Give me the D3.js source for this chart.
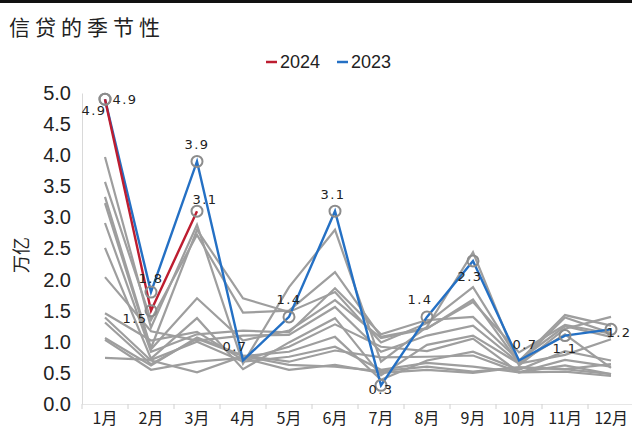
<!DOCTYPE html>
<html>
<head>
<meta charset="utf-8">
<script src="https://cdn.jsdelivr.net/npm/d3@7/dist/d3.min.js"></script>
<style>
  html, body { margin: 0; padding: 0; background: #fff; }
  svg { display: block; }
</style>
</head>
<body>
<svg id="chart" width="632" height="430"></svg>
<script>
// Months on the category axis
const months = ["1月","2月","3月","4月","5月","6月","7月","8月","9月","10月","11月","12月"];

// Monthly new loans, trillion yuan
const values2024 = [4.9, 1.5, 3.1];
const values2023 = [4.9, 1.8, 3.9, 0.7, 1.4, 3.1, 0.3, 1.4, 2.3, 0.7, 1.1, 1.2];

// Earlier years, drawn as grey background lines
const history2022 = [3.97, 1.23, 2.88, 0.65, 1.88, 2.80, 0.68, 1.24, 2.44, 0.62, 1.21, 1.40];
const history2021 = [3.57, 1.35, 2.72, 1.47, 1.50, 2.12, 1.08, 1.22, 1.64, 0.83, 1.27, 1.13];
const history2020 = [3.33, 0.90, 2.80, 1.70, 1.48, 1.80, 0.99, 1.30, 1.88, 0.69, 1.43, 1.26];
const history2019 = [3.23, 0.88, 1.70, 1.02, 1.18, 1.67, 1.06, 1.21, 1.68, 0.66, 1.39, 1.14];
const history2018 = [2.91, 0.84, 1.12, 1.18, 1.15, 1.86, 1.12, 1.35, 1.40, 0.70, 1.25, 1.08];
const history2017 = [2.04, 1.17, 1.02, 1.10, 1.11, 1.56, 0.84, 1.10, 1.26, 0.66, 1.12, 0.58];
const history2016 = [2.51, 0.73, 1.38, 0.56, 0.99, 1.38, 0.46, 0.95, 1.10, 0.65, 0.79, 1.04];
const history2015 = [1.46, 1.02, 1.16, 0.71, 0.92, 1.28, 0.92, 0.85, 1.05, 0.51, 0.71, 0.60];
const history2014 = [1.31, 0.64, 1.05, 0.77, 0.84, 1.08, 0.39, 0.70, 0.84, 0.55, 0.85, 0.70];
const history2013 = [1.06, 0.62, 1.07, 0.78, 0.68, 0.86, 0.75, 0.76, 0.78, 0.51, 0.62, 0.48];
const history2012 = [0.74, 0.71, 1.00, 0.68, 0.76, 0.92, 0.55, 0.66, 0.60, 0.51, 0.52, 0.45];
const history2011 = [1.03, 0.55, 0.68, 0.74, 0.55, 0.63, 0.50, 0.55, 0.50, 0.59, 0.56, 0.64];
const history2010 = [1.39, 0.70, 0.51, 0.77, 0.63, 0.60, 0.53, 0.60, 0.52, 0.59, 0.56, 0.48];

const historyLines = [history2022, history2021, history2020, history2019, history2018,
  history2017, history2016, history2015, history2014, history2013, history2012,
  history2011, history2010];

const yTicks = [0, 0.5, 1.0, 1.5, 2.0, 2.5, 3.0, 3.5, 4.0, 4.5, 5.0];

const svg = d3.select("#chart");
const W = 632, H = 430;
const plot = { left: 82, right: 634, top: 93, bottom: 404 };

// Frame rule along the top edge
svg.append("rect").attr("x", 0).attr("y", 0).attr("width", W).attr("height", 3).attr("fill", "#111");

// Title
svg.append("text")
  .attr("x", 9).attr("y", 35)
  .attr("font-family", "'Noto Sans CJK SC', sans-serif")
  .attr("font-size", 21).attr("letter-spacing", 5)
  .attr("fill", "#222")
  .text("信贷的季节性");

const x = d3.scaleBand().domain(months).range([plot.left, plot.right]).paddingInner(0).paddingOuter(0);
const y = d3.scaleLinear().domain([0, 5]).range([plot.bottom, plot.top]);
const cx = m => x(m) + x.bandwidth() / 2;

// Y axis
const yAxis = svg.append("g").attr("transform", `translate(${plot.left},0)`)
  .call(d3.axisLeft(y).tickValues(yTicks).tickFormat(d3.format(".1f")).tickSize(0).tickPadding(11));
yAxis.select(".domain").attr("stroke", "#d9d9d9");
yAxis.selectAll("text")
  .attr("font-family", "'Liberation Sans', Arial, sans-serif")
  .attr("font-size", 20).attr("fill", "#222");

// X axis
const xAxis = svg.append("g").attr("transform", `translate(0,${plot.bottom})`)
  .call(d3.axisBottom(x).tickSize(0).tickPadding(8));
xAxis.select(".domain").attr("stroke", "#e6e6e6");
xAxis.selectAll("text")
  .attr("font-family", "'Noto Sans CJK SC', sans-serif")
  .attr("font-size", 16).attr("fill", "#222").attr("dy", "0.72em");
// Tick marks sit on the category boundaries
svg.append("g").selectAll("line")
  .data(months)
  .join("line")
  .attr("x1", d => x(d)).attr("x2", d => x(d))
  .attr("y1", plot.bottom).attr("y2", plot.bottom + 5)
  .attr("stroke", "#d0d0d0");

// Y axis title
svg.append("text")
  .attr("transform", `translate(28,255) rotate(-90)`)
  .attr("text-anchor", "middle")
  .attr("font-family", "'Noto Sans CJK SC', sans-serif")
  .attr("font-size", 18).attr("fill", "#222")
  .text("万亿");

const line = d3.line().x((d, i) => cx(months[i])).y(d => y(d));

// Background years
svg.append("g").selectAll("path")
  .data(historyLines)
  .join("path")
  .attr("d", line)
  .attr("fill", "none")
  .attr("stroke", "#9e9e9e")
  .attr("stroke-width", 2.2)
  .attr("stroke-linejoin", "miter");

const blue = "#2470c4", red = "#bd1d30";

svg.append("path").datum(values2023).attr("d", line)
  .attr("fill", "none").attr("stroke", blue).attr("stroke-width", 2.4);
svg.append("path").datum(values2024).attr("d", line)
  .attr("fill", "none").attr("stroke", red).attr("stroke-width", 2.4);

// Point markers
const ring2023 = [true, true, true, false, true, true, true, true, true, false, true, true];
const ringPts = values2023.map((v, i) => ({ v, i, show: ring2023[i] }))
  .concat(values2024.map((v, i) => ({ v, i, show: true })))
  .filter(d => d.show);
svg.append("g").selectAll("circle")
  .data(ringPts)
  .join("circle")
  .attr("cx", d => cx(months[d.i])).attr("cy", d => y(d.v))
  .attr("r", 5.5).attr("fill", "none").attr("stroke", "#8c8c8c").attr("stroke-width", 2);

// Value labels (offsets from the point, px)
const off2023 = [[20, 0], [0, -14], [0, -17], [-8, -14], [0, -17], [-2, -17], [0, 4], [-7, -17], [-3, 16], [6, -16], [0, 13], [8, 3]];
const off2024 = [[-11, 11], [-16, 8], [8, -12]];
const fmt = d3.format(".1f");
const labelG = svg.append("g")
  .attr("font-family", "'DejaVu Sans', sans-serif")
  .attr("font-size", 13).attr("fill", "#222")
  .attr("text-anchor", "middle").attr("letter-spacing", 1.5);
labelG.selectAll("text.y23")
  .data(values2023)
  .join("text").attr("class", "y23")
  .attr("x", (d, i) => cx(months[i]) + off2023[i][0])
  .attr("y", (d, i) => y(d) + off2023[i][1])
  .attr("dy", "0.35em")
  .text(d => fmt(d));
labelG.selectAll("text.y24")
  .data(values2024)
  .join("text").attr("class", "y24")
  .attr("x", (d, i) => cx(months[i]) + off2024[i][0])
  .attr("y", (d, i) => y(d) + off2024[i][1])
  .attr("dy", "0.35em")
  .text(d => fmt(d));

// Legend
const legend = [{ name: "2024", color: red, x: 266 }, { name: "2023", color: blue, x: 337 }];
const lg = svg.append("g").selectAll("g").data(legend).join("g")
  .attr("transform", d => `translate(${d.x},62)`);
lg.append("line").attr("x1", 0).attr("x2", 11).attr("y1", 0).attr("y2", 0)
  .attr("stroke", d => d.color).attr("stroke-width", 2.5);
lg.append("text").attr("x", 14).attr("y", 0).attr("dy", "0.36em")
  .attr("font-family", "'Liberation Sans', Arial, sans-serif")
  .attr("font-size", 18).attr("fill", "#222")
  .text(d => d.name);
</script>
</body>
</html>
